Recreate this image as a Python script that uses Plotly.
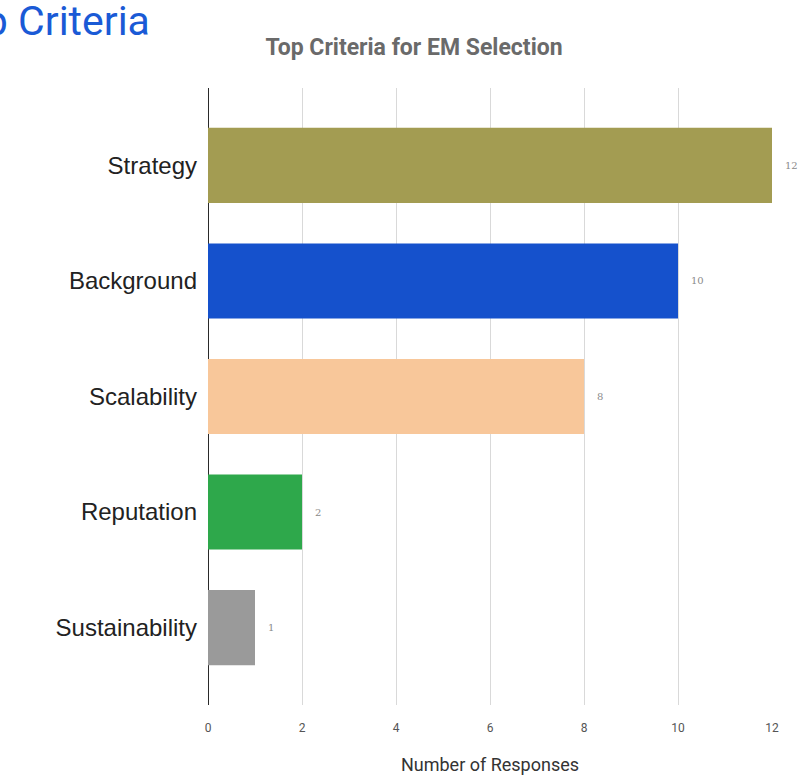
import plotly.graph_objects as go

# Survey results: top criteria for EM selection
criteria = ["Strategy", "Background", "Scalability", "Reputation", "Sustainability"]
responses = [12, 10, 8, 2, 1]
bar_colors = ["#a39c52", "#1551cc", "#f8c79a", "#2ea84b", "#9a9a9a"]
x_ticks = [0, 2, 4, 6, 8, 10, 12]

W, H = 810, 775
left, right, top, bottom = 208, 38, 88, 70
plot_w = W - left - right
plot_h = H - top - bottom

fig = go.Figure(
    go.Bar(
        y=criteria,
        x=responses,
        orientation="h",
        marker=dict(color=bar_colors, line=dict(width=0)),
        width=0.65,
        cliponaxis=False,
        hoverinfo="x+y",
    )
)

# value labels sitting just to the right of each bar
value_labels = [
    dict(
        x=v,
        y=c,
        xref="x",
        yref="y",
        text=str(v),
        showarrow=False,
        xanchor="left",
        yanchor="middle",
        xshift=11,
        font=dict(family="DejaVu Serif", size=10, color="#8a8a8a"),
    )
    for c, v in zip(criteria, responses)
]

# section heading, partly running off the left edge of the page
heading = dict(
    text="Top Criteria",
    xref="paper",
    yref="paper",
    x=(152 - left) / plot_w,
    xanchor="right",
    y=1 + (top - 21) / plot_h,
    yanchor="middle",
    showarrow=False,
    font=dict(family="Roboto", size=41, color="#1a5ad6"),
)

fig.update_layout(
    width=W,
    height=H,
    margin=dict(l=left, r=right, t=top, b=bottom, autoexpand=False),
    paper_bgcolor="white",
    plot_bgcolor="white",
    showlegend=False,
    font=dict(family="Roboto"),
    title=dict(
        text="Top Criteria for EM Selection",
        x=414 / W,
        xanchor="center",
        y=1 - 47 / H,
        yanchor="middle",
        font=dict(family="Roboto", size=23, color="#6a6a6a", weight="bold"),
    ),
    annotations=value_labels + [heading],
)

fig.update_xaxes(
    range=[0, 12],
    tickvals=x_ticks,
    automargin=False,
    showgrid=True,
    gridcolor="#d9d9d9",
    gridwidth=1,
    zeroline=True,
    zerolinecolor="#2a2a2a",
    zerolinewidth=1.2,
    showline=False,
    ticks="",
    ticklabelstandoff=14,
    tickfont=dict(family="Roboto", size=12, color="#555555"),
    title=dict(
        text="Number of Responses",
        standoff=24,
        font=dict(family="Roboto", size=18, color="#333333"),
    ),
)

fig.update_yaxes(
    categoryorder="array",
    categoryarray=criteria,
    range=[4.67, -0.67],
    automargin=False,
    showgrid=False,
    showline=False,
    ticks="",
    ticklabelstandoff=10,
    tickfont=dict(family="Liberation Sans", size=24, color="#222222"),
)

fig.write_html("out.html")
